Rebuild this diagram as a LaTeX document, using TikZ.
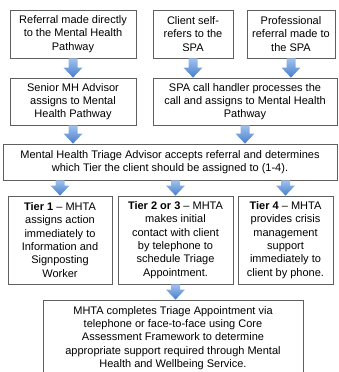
\documentclass[tikz,border=0pt]{standalone}
\usepackage{fontspec}
\setmainfont{Liberation Sans}
\usetikzlibrary{calc}

\definecolor{arrtop}{RGB}{160,194,240}
\definecolor{arrbot}{RGB}{72,125,201}
\definecolor{boxline}{RGB}{95,95,95}

\tikzset{
  box/.style={draw=boxline, line width=0.8pt, align=center, inner sep=0pt,
    font=\fontsize{11}{13.3}\selectfont},
  blk/.style={to path={($(\tikztostart)+(-4.5,0)$) -- ($(\tikztotarget)+(-4.5,-10)$)
    -- ($(\tikztotarget)+(-9.5,-10)$) -- (\tikztotarget) -- ($(\tikztotarget)+(9.5,-10)$)
    -- ($(\tikztotarget)+(4.5,-10)$) -- ($(\tikztostart)+(4.5,0)$) -- cycle}},
  arr/.style={top color=arrtop, bottom color=arrbot}
}

\begin{document}
\begin{tikzpicture}[x=1pt,y=-1pt]
\useasboundingbox (0,0) rectangle (338,372);
% referral routes
\node[box, minimum width=126pt, minimum height=48pt] (ref) at (73,34) {Referral made directly\\to the Mental Health\\Pathway};
\node[box, minimum width=80pt, minimum height=48pt] (self) at (193,34) {Client self-\\refers to the\\SPA};
\node[box, minimum width=88pt, minimum height=48pt] (prof) at (291,34) {Professional\\referral made to\\the SPA};
\node[box, minimum width=126pt, minimum height=47pt] (senior) at (73,101.5) {Senior MH Advisor\\assigns to Mental\\Health Pathway};
\node[box, minimum width=184pt, minimum height=47pt] (spa) at (245,101.5) {SPA call handler processes the\\call and assigns to Mental Health\\Pathway};
% triage
\node[box, minimum width=334pt, minimum height=36pt] (mhta) at (170,162) {Mental Health Triage Advisor accepts referral and determines\\which Tier the client should be assigned to (1-4).};
% tiers
\node[box, minimum width=104pt, minimum height=88pt] (tier1) at (60,240) {\textbf{Tier 1} -- MHTA\\assigns action\\immediately to\\Information and\\Signposting\\Worker};
\node[box, minimum width=115pt, minimum height=88pt] (tier23) at (175.5,240) {\textbf{Tier 2 or 3} -- MHTA\\makes initial\\contact with client\\by telephone to\\schedule Triage\\Appointment.};
\node[box, minimum width=95pt, minimum height=88pt] (tier4) at (285.5,240) {\textbf{Tier 4} -- MHTA\\provides crisis\\management\\support\\immediately to\\client by phone.};
\node[box, minimum width=260pt, minimum height=76pt] (final) at (173,338) {MHTA completes Triage Appointment via\\telephone or face-to-face using Core\\Assessment Framework to determine\\appropriate support required through Mental\\Health and Wellbeing Service.};
% block arrows
\shade[arr] (ref.south) to[blk] (senior.north);
\shade[arr] (self.south) to[blk] (self.south |- spa.north);
\shade[arr] (prof.south) to[blk] (prof.south |- spa.north);
\shade[arr] (senior.south) to[blk] (senior.south |- mhta.north);
\shade[arr] (spa.south) to[blk] (spa.south |- mhta.north);
\shade[arr] (mhta.south -| tier1.north) to[blk] (tier1.north);
\shade[arr] (mhta.south -| tier23.north) to[blk] (tier23.north);
\shade[arr] (mhta.south -| tier4.north) to[blk] (tier4.north);
\shade[arr] (tier23.south) to[blk] (tier23.south |- final.north);
\end{tikzpicture}
\end{document}
